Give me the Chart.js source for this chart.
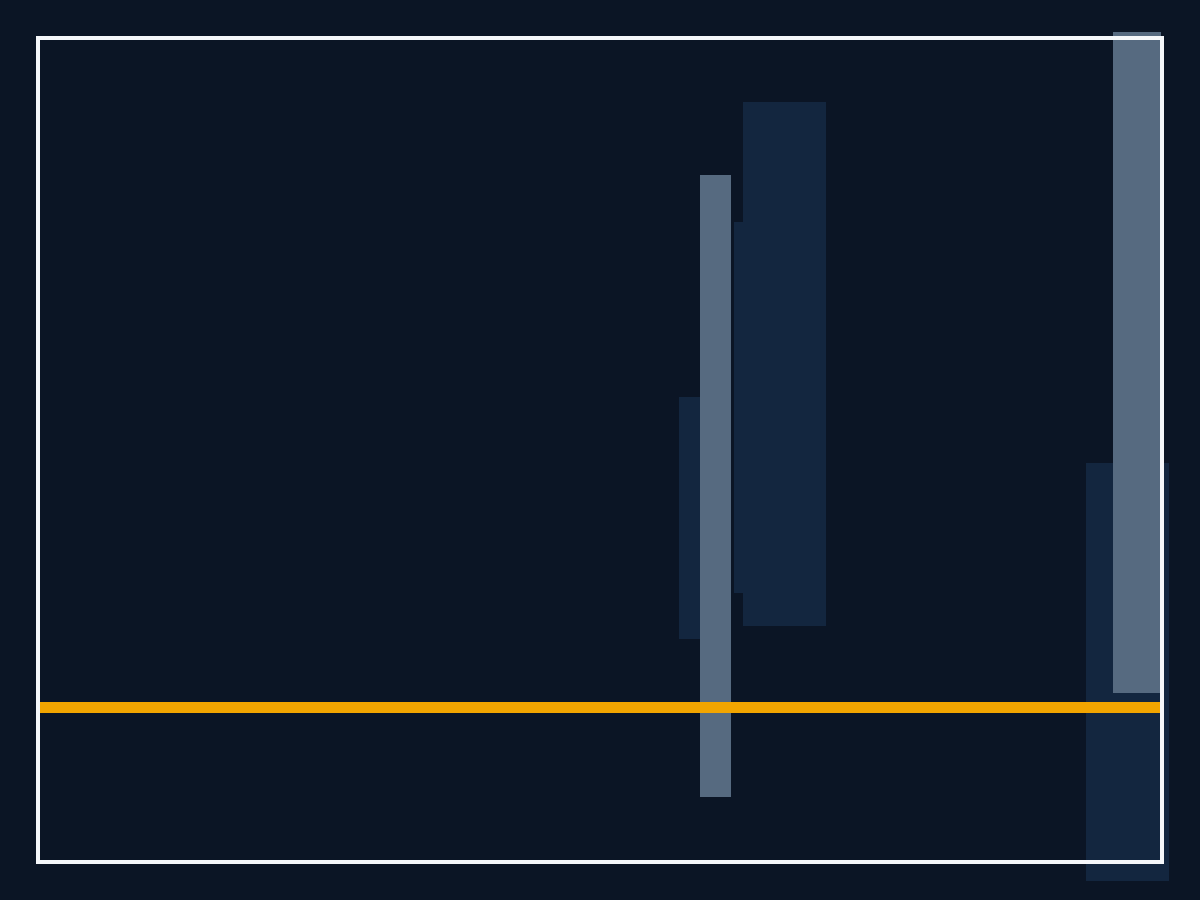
<!DOCTYPE html>
<html>
<head>
<meta charset="utf-8">
<script src="https://cdn.jsdelivr.net/npm/chart.js@4/dist/chart.umd.min.js"></script>
<style>
  html, body { margin: 0; padding: 0; background: #0b1525; }
  canvas { display: block; background: #0b1525; }
</style>
</head>
<body>
<canvas id="grafico" width="1200" height="900"></canvas>
<script>
// values (x 0..1120, y 0..820)
const xMin = 0, xMax = 1120;
const yMin = 0, yMax = 820;

// dark blue ranges, wide ones
const blueX    = [735.5, 744.5, 1087.5];
const blueLow  = [267, 234, -21];
const blueHigh = [638, 758, 397];

// dark blue range, narrow one (mostly behind the grey bar)
const blueSmallX    = [660];
const blueSmallLow  = [221];
const blueSmallHigh = [463];

// grey ranges
const greyX    = [675.5];
const greyLow  = [63];
const greyHigh = [685];

const greyWideX    = [1097];
const greyWideLow  = [167];
const greyWideHigh = [828];

// orange level line
const lineX = [0, 1120];
const lineY = [152.5, 152.5];

function ranges(xs, lo, hi) {
  return xs.map((x, i) => ({ x: x, y: [lo[i], hi[i]] }));
}

const moldura = {
  id: 'moldura',
  afterDatasetsDraw(chart) {
    const a = chart.chartArea;
    const ctx = chart.ctx;
    ctx.save();
    ctx.strokeStyle = '#f5f7fa';
    ctx.lineWidth = 4;
    ctx.strokeRect(a.left - 2, a.top - 2, a.right - a.left + 4, a.bottom - a.top + 4);
    ctx.restore();
  }
};

const barBase = {
  type: 'bar',
  grouped: false,
  borderWidth: 0,
  inflateAmount: 0,
  clip: false
};

let ctx = document.getElementById('grafico');

var grafico = new Chart(ctx, {
  type: 'bar',
  data: {
    datasets: [
      {
        type: 'line',
        data: lineX.map((x, i) => ({ x: x, y: lineY[i] })),
        borderColor: '#f2a500',
        borderWidth: 11,
        borderCapStyle: 'butt',
        pointRadius: 0,
        tension: 0,
        clip: false,
        order: 0
      },
      Object.assign({}, barBase, {
        data: ranges(greyX, greyLow, greyHigh),
        backgroundColor: '#566a80',
        barThickness: 31,
        order: 1
      }),
      Object.assign({}, barBase, {
        data: ranges(greyWideX, greyWideLow, greyWideHigh),
        backgroundColor: '#566a80',
        barThickness: 48,
        order: 1
      }),
      Object.assign({}, barBase, {
        data: ranges(blueX, blueLow, blueHigh),
        backgroundColor: '#13263f',
        barThickness: 83,
        order: 2
      }),
      Object.assign({}, barBase, {
        data: ranges(blueSmallX, blueSmallLow, blueSmallHigh),
        backgroundColor: '#13263f',
        barThickness: 42,
        order: 2
      })
    ]
  },
  options: {
    responsive: false,
    devicePixelRatio: 1,
    animation: false,
    layout: { padding: { left: 40, right: 40, top: 40, bottom: 40 } },
    plugins: {
      legend: { display: false },
      tooltip: { enabled: false }
    },
    scales: {
      x: { type: 'linear', min: xMin, max: xMax, offset: false, display: false },
      y: { type: 'linear', min: yMin, max: yMax, display: false }
    }
  },
  plugins: [moldura]
});
</script>
</body>
</html>
